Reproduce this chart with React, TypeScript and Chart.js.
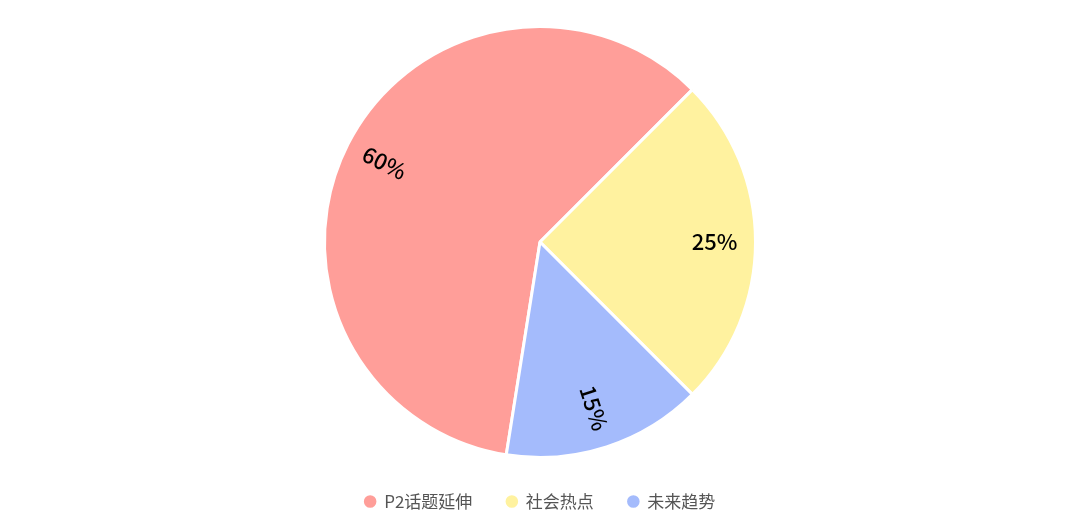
import React, { useEffect, useRef } from "react";
import { Chart, registerables } from "chart.js";

Chart.register(...registerables);

const categories = ["P2话题延伸", "社会热点", "未来趋势"];
const values = [60, 25, 15];
const colors = ["#FF9E99", "#FFF29F", "#A4BBFC"];

const labelPlugin = {
  id: "radialLabels",
  afterDatasetsDraw(chart: any) {
    const ctx = chart.ctx;
    const meta = chart.getDatasetMeta(0);
    const total = values.reduce((a, b) => a + b, 0);
    meta.data.forEach((arc: any, i: number) => {
      const { x, y, startAngle, endAngle, outerRadius } = arc.getProps(
        ["x", "y", "startAngle", "endAngle", "outerRadius"],
        true
      );
      const mid = (startAngle + endAngle) / 2;
      const r = outerRadius * 0.81;
      const px = x + Math.cos(mid) * r;
      const py = y + Math.sin(mid) * r;
      let norm = ((mid % (2 * Math.PI)) + 2 * Math.PI) % (2 * Math.PI);
      if (norm > Math.PI / 2 && norm < (3 * Math.PI) / 2) norm -= Math.PI;
      ctx.save();
      ctx.translate(px, py);
      ctx.rotate(norm);
      ctx.fillStyle = "#000";
      ctx.font = '500 22px "Noto Sans CJK SC", "Noto Sans", sans-serif';
      ctx.textAlign = "center";
      ctx.textBaseline = "middle";
      ctx.fillText(Math.round((values[i] / total) * 100) + "%", 0, 0);
      ctx.restore();
    });
  },
};

export default function App() {
  const ref = useRef<HTMLCanvasElement>(null);
  useEffect(() => {
    document.body.style.margin = "0";
    const chart = new Chart(ref.current!, {
      type: "pie",
      data: {
        labels: categories,
        datasets: [
          {
            data: values,
            backgroundColor: colors,
            borderColor: "#ffffff",
            borderWidth: 3,
          },
        ],
      },
      options: {
        responsive: false,
        animation: false,
        rotation: 189,
        layout: { padding: { top: 25, bottom: 12 } },
        plugins: {
          tooltip: { enabled: false },
          legend: {
            position: "bottom",
            labels: {
              usePointStyle: true,
              pointStyle: "circle",
              boxWidth: 11,
              boxHeight: 11,
              padding: 34,
              color: "#555",
              font: { size: 17, family: '"Noto Sans CJK SC", "Noto Sans", sans-serif' },
            },
          },
        },
      },
      plugins: [labelPlugin],
    });
    return () => chart.destroy();
  }, []);
  return (
    <div style={{ width: 1080, height: 532 }}>
      <canvas ref={ref} width={1080} height={532} style={{ width: 1080, height: 532 }} />
    </div>
  );
}
